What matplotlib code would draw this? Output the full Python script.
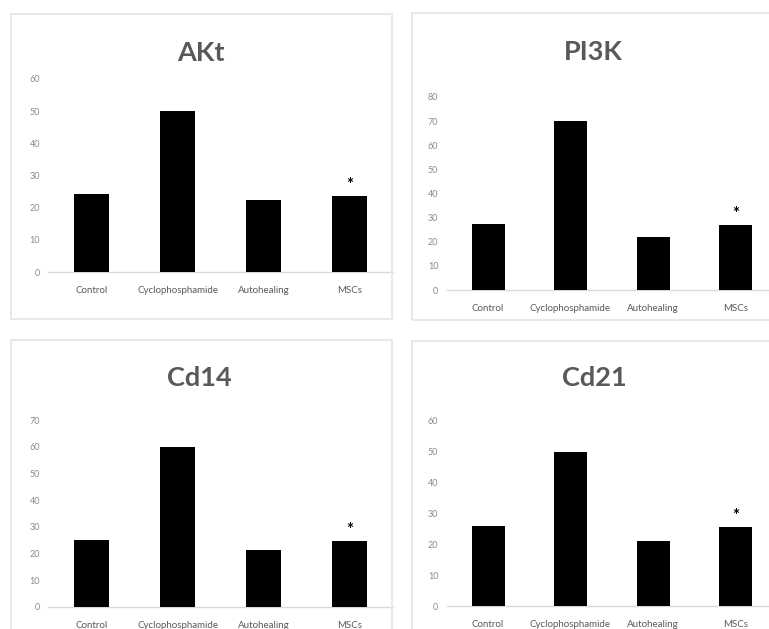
import matplotlib
matplotlib.use("Agg")
import matplotlib.pyplot as plt
from matplotlib.patches import Rectangle

categories = ["Control", "Cyclophosphamide", "Autohealing", "MSCs"]
akt = [24.2, 50.0, 22.3, 23.7]
pi3k = [27.2, 70.2, 22.1, 26.8]
cd14 = [25.0, 60.0, 21.2, 24.8]
cd21 = [26.0, 50.0, 21.0, 25.6]
titles = ["AKt", "PI3K", "Cd14", "Cd21"]
ymaxes = [60, 80, 70, 60]
star_index = 3  # MSCs marked with *

W, H = 769, 629
fig = plt.figure(figsize=(W / 100, H / 100), dpi=100)
fig.patch.set_facecolor("white")
plt.rcParams['font.family'] = ['Lato', 'DejaVu Sans']

def px_rect(x0, y0, x1, y1):
    # pixel coordinates (top-left origin) -> figure fraction rect
    return [x0 / W, 1 - y1 / H, (x1 - x0) / W, (y1 - y0) / H]

# panel frames (x0, y0, x1, y1) in pixels
frames = [(11, 14, 392, 319), (412, 13, 800, 320),
          (11, 340, 392, 700), (412, 341, 800, 700)]
for (x0, y0, x1, y1) in frames:
    fig.patches.append(Rectangle((x0 / W, 1 - y1 / H), (x1 - x0) / W, (y1 - y0) / H,
                                 transform=fig.transFigure, fill=False,
                                 edgecolor="#e8e8e8", linewidth=1.4))

# plot areas: (x_left, x_right, y_zero, y_max) pixels
areas = [(48.5, 392.5, 272, 79), (446.75, 776.75, 290, 97),
         (48.5, 392.5, 607, 420), (446.75, 776.75, 606.3, 420.7)]
title_pos = [(201, 53), (593, 52), (199, 378), (594, 378)]
datasets = [akt, pi3k, cd14, cd21]

for data, title, ymax, (xl, xr, y0, y1), (tx, ty) in zip(datasets, titles, ymaxes, areas, title_pos):
    ax = fig.add_axes(px_rect(xl, y1, xr, y0))
    ax.set_facecolor("none")
    xs = list(range(len(categories)))
    ax.bar(xs, data, width=0.4, color="black", zorder=3)
    ax.set_xlim(-0.5, len(categories) - 0.5)
    ax.set_ylim(0, ymax)
    ax.set_yticks(range(0, ymax + 1, 10))
    ax.set_xticks(xs)
    ax.set_xticklabels(categories, fontsize=7, color="#595959")
    ax.tick_params(axis="x", length=0, pad=10)
    ax.tick_params(axis="y", length=0, pad=6, labelsize=6.5, labelcolor="#8c8c8c")
    for s in ["top", "right", "left"]:
        ax.spines[s].set_visible(False)
    ax.spines["bottom"].set_color("#d9d9d9")
    ax.spines["bottom"].set_linewidth(1.0)
    for lbl in ax.get_xticklabels() + ax.get_yticklabels():
        lbl.set_clip_on(False)
    ax.annotate("*", xy=(star_index, data[star_index]), xytext=(0, 8),
                textcoords="offset points", ha="center", va="center",
                fontsize=12, fontweight="bold", color="black", annotation_clip=False)
    fig.text(tx / W, 1 - ty / H, title, ha="center", va="center",
             fontsize=19.5, fontweight="bold", color="#595959")

fig.savefig("out.png", dpi=100, facecolor="white")
